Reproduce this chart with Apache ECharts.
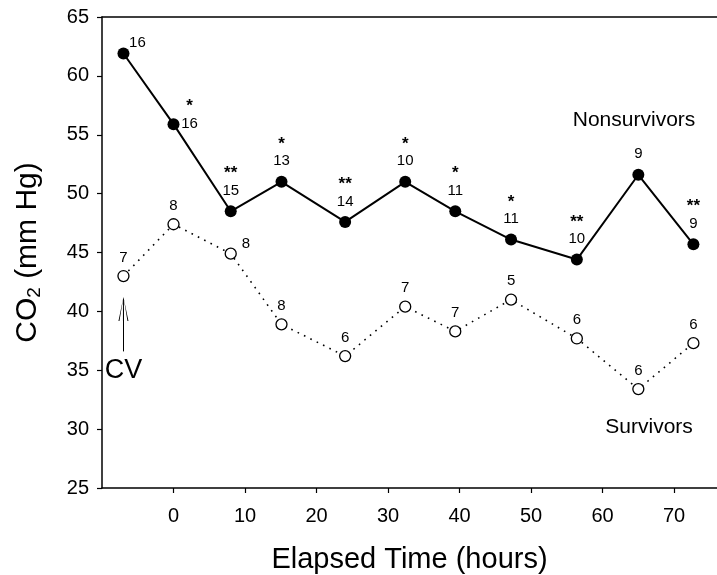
<!DOCTYPE html>
<html>
<head>
<meta charset="utf-8">
<script src="https://cdn.jsdelivr.net/npm/echarts@6/dist/echarts.min.js"></script>
<style>
  html, body { margin: 0; padding: 0; background: #fff; }
  #chart { width: 717px; height: 575px; }
</style>
</head>
<body>
<div id="chart"></div>
<script>
// elapsed time (hours) of each measurement
var hours = [-7, 0, 8, 15.1, 24, 32.4, 39.4, 47.2, 56.4, 65, 72.7];
// CO2 (mm Hg)
var nonsurvivors = [61.9, 55.9, 48.5, 51.0, 47.6, 51.0, 48.5, 46.1, 44.4, 51.6, 45.7];
var survivors = [43.0, 47.4, 44.9, 38.9, 36.2, 40.4, 38.3, 41.0, 37.7, 33.4, 37.3];
// number of patients at each point
var nNonsurvivors = [16, 16, 15, 13, 14, 10, 11, 11, 10, 9, 9];
var nSurvivors = [7, 8, 8, 8, 6, 7, 7, 5, 6, 6, 6];
// significance marks for nonsurvivors
var stars = ['', '*', '**', '*', '**', '*', '*', '*', '**', '', '**'];
var yTicks = [25, 30, 35, 40, 45, 50, 55, 60, 65];
var xTicks = [0, 10, 20, 30, 40, 50, 60, 70];

var font = 'Liberation Sans, Arial, sans-serif';

function pairs(ys) {
    var out = [];
    for (var i = 0; i < hours.length; i++) {
        out.push([hours[i], ys[i]]);
    }
    return out;
}

var nonData = pairs(nonsurvivors).map(function (d, i) {
    var item = { value: d };
    if (i === 0) {
        item.label = { position: 'right', distance: 8, offset: [0, -11] };
    } else if (i === 1) {
        item.label = { position: 'right', distance: 10, offset: [0, -9] };
    }
    return item;
});

var survData = pairs(survivors).map(function (d, i) {
    var item = { value: d };
    if (i === 2) {
        item.label = { position: 'right', distance: 5, offset: [0, -10] };
    }
    return item;
});

var option = {
    animation: false,
    backgroundColor: '#fff',
    textStyle: { fontFamily: font, color: '#000' },
    grid: { left: 102, right: 0, top: 17, bottom: 87, outerBoundsMode: 'none', containLabel: false },
    xAxis: [{
        type: 'value',
        min: -10,
        max: 76,
        interval: 10,
        name: 'Elapsed Time (hours)',
        nameLocation: 'middle',
        nameGap: 57,
        nameTextStyle: { fontSize: 29, fontFamily: font, color: '#000' },
        axisLine: { show: true, onZero: false, lineStyle: { color: '#000', width: 1.5 } },
        axisTick: { show: true, inside: false, length: 5, lineStyle: { color: '#000', width: 1.2 } },
        axisLabel: {
            fontSize: 20, fontFamily: font, color: '#000', margin: 18,
            showMinLabel: false, showMaxLabel: false,
            formatter: function (v) { return xTicks.indexOf(v) >= 0 ? String(v) : ''; }
        },
        splitLine: { show: false }
    }, {
        type: 'value',
        position: 'top',
        min: -10,
        max: 76,
        axisLine: { show: true, onZero: false, lineStyle: { color: '#000', width: 1.5 } },
        axisTick: { show: false },
        axisLabel: { show: false },
        splitLine: { show: false }
    }],
    yAxis: {
        type: 'value',
        min: 25,
        max: 65,
        interval: 5,
        name: '{a|CO}{b|2}{a| (mm Hg)}',
        nameLocation: 'middle',
        nameGap: 58,
        nameRotate: 90,
        nameTextStyle: {
            fontFamily: font, color: '#000',
            rich: {
                a: { fontSize: 30, fontFamily: font, color: '#000' },
                b: { fontSize: 19, fontFamily: font, color: '#000', verticalAlign: 'bottom', padding: [14, 0, 0, 0] }
            }
        },
        axisLine: { show: true, onZero: false, lineStyle: { color: '#000', width: 1.5 } },
        axisTick: { show: true, length: 5, lineStyle: { color: '#000', width: 1.2 } },
        axisLabel: {
            fontSize: 20, fontFamily: font, color: '#000', margin: 13,
            formatter: function (v) { return yTicks.indexOf(v) >= 0 ? String(v) : ''; }
        },
        splitLine: { show: false }
    },
    series: [{
        name: 'Nonsurvivors',
        type: 'line',
        data: nonData,
        symbol: 'circle',
        symbolSize: 12,
        itemStyle: { color: '#000' },
        lineStyle: { color: '#000', width: 2 },
        label: {
            show: true,
            position: 'top',
            distance: 6,
            align: 'center',
            formatter: function (p) {
                var s = stars[p.dataIndex];
                var n = '{n|' + nNonsurvivors[p.dataIndex] + '}';
                return s ? '{s|' + s + '}\n' + n : n;
            },
            rich: {
                n: { fontSize: 15, fontFamily: font, color: '#000', lineHeight: 17 },
                s: { fontSize: 17, fontWeight: 'bold', fontFamily: font, color: '#000', lineHeight: 17 }
            }
        },
        markPoint: {
            symbol: 'circle',
            symbolSize: 0,
            label: { show: true, position: 'inside', color: '#000', fontFamily: font },
            data: [{
                coord: [64.4, 56.25],
                label: { formatter: 'Nonsurvivors', fontSize: 21 }
            }, {
                coord: [66.5, 30.2],
                label: { formatter: 'Survivors', fontSize: 21 }
            }, {
                coord: [-7, 35.0],
                label: { formatter: 'CV', fontSize: 27 }
            }]
        },
        z: 3
    }, {
        name: 'Survivors',
        type: 'line',
        data: survData,
        symbol: 'circle',
        symbolSize: 11,
        itemStyle: { color: '#fff', borderColor: '#000', borderWidth: 1.3 },
        lineStyle: { color: '#000', width: 1.6, type: [1.6, 5.5] },
        label: {
            show: true,
            position: 'top',
            distance: 5,
            fontSize: 15,
            fontFamily: font,
            color: '#000',
            formatter: function (p) { return String(nSurvivors[p.dataIndex]); }
        },
        markLine: {
            silent: true,
            symbol: ['none', 'path://M5,0 L10,24 L9,24 L5.5,3 L5.5,24 L4.5,24 L4.5,3 L1,24 L0,24 Z'],
            symbolSize: [10, 24],
            label: { show: false },
            lineStyle: { color: '#000', width: 1, type: 'solid' },
            data: [[{ coord: [-7, 36.6] }, { coord: [-7, 40.2] }]]
        },
        z: 2
    }]
};

var myChart = echarts.init(document.getElementById('chart'));
myChart.setOption(option);
</script>
</body>
</html>
